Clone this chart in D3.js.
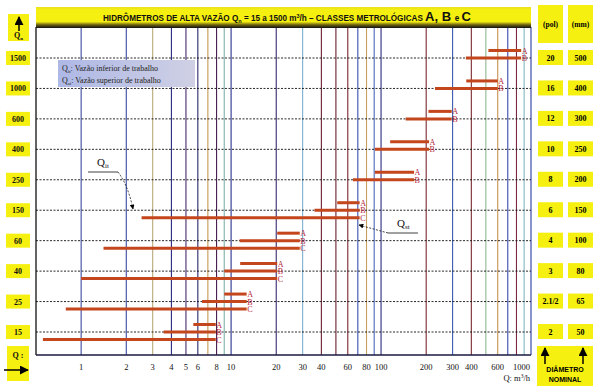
<!DOCTYPE html>
<html><head><meta charset="utf-8">
<script src="https://cdn.jsdelivr.net/npm/d3@7"></script>
<style>body{margin:0;background:#fff}svg{display:block}</style>
</head><body>
<svg id="c" width="598" height="389"></svg>
<script>
// ---- data ----
const rows = ["1500","1000","600","400","250","150","60","40","25","15"];
const pol  = ["20","16","12","10","8","6","4","3","2.1/2","2"];
const mm   = ["500","400","300","250","200","150","100","80","65","50"];
const classA = [[520,860],[370,600],[207,296],[115,209],[91,166],[51,72],[20.3,28.7],[11.5,20.3],[9,12.7],[5.6,7.9]];
const classB = [[368,860],[229,600],[146,296],[91,209],[65,166],[36,72],[11.4,28.7],[9,20.3],[6.4,12.7],[3.55,7.9]];
const classC = [null,null,null,null,null,[2.53,72],[1.41,28.7],[1,20.3],[0.79,12.7],[0.556,7.9]];
const xTicks = [1,2,3,4,5,6,8,10,20,30,40,60,80,100,200,300,400,600,1000];
const gridVals = [1,2,3,4,5,6,7,8,9,10,20,30,40,50,60,70,80,90,100,200,300,400,500,600,700,800,900,1000];
const gridColors = ["#3a4aa0","#3a4aa0","#b8a878","#2a2a80","#4a2a70","#2a2a70","#c89850","#4a2050","#80b0a8","#2a3090",
  "#3a2a70","#7ab0d0","#6a2030","#6a2030","#7a2a30","#3a50b0","#c8a060","#4a6ab8","#2a2a80",
  "#7a2a30","#3a5ab0","#7a2a30","#90b890","#c89050","#3a4ab0","#7a2a40","#80b8c0","#2a3aa0"];

const svg = d3.select("#c");
const L = 36, R = 531, T = 27, B = 355;
const x = d3.scaleLog().domain([0.5,1000]).range([L,R]);
const y = d3.scalePoint().domain(rows).range([58,332]);
const YEL = "#f6f010";
const serif = "'Liberation Serif','DejaVu Serif',serif";
const sans = "'Liberation Sans',Arial,sans-serif";

const defs = svg.append("defs");
const tg = defs.append("linearGradient").attr("id","tg").attr("x1",0).attr("x2",0).attr("y1",0).attr("y2",1);
tg.append("stop").attr("offset","0%").attr("stop-color","#e8e020");
tg.append("stop").attr("offset","15%").attr("stop-color",YEL);
tg.append("stop").attr("offset","70%").attr("stop-color",YEL);
tg.append("stop").attr("offset","85%").attr("stop-color","#6a6010");
tg.append("stop").attr("offset","100%").attr("stop-color","#111");
const lg = defs.append("linearGradient").attr("id","lg").attr("x1",0).attr("x2",1);
lg.append("stop").attr("offset","0%").attr("stop-color","#aeb8e6");
lg.append("stop").attr("offset","100%").attr("stop-color","#cfd0e4");
defs.append("marker").attr("id","ah").attr("viewBox","0 0 10 10").attr("refX",9).attr("refY",5)
  .attr("markerWidth",6).attr("markerHeight",6).attr("orient","auto")
  .append("path").attr("d","M0,0 L10,5 L0,10 z").attr("fill","#000");

// grid verticals
svg.append("g").selectAll("line").data(gridVals).join("line")
  .attr("x1",d=>x(d)).attr("x2",d=>x(d)).attr("y1",T).attr("y2",B)
  .attr("stroke",(d,i)=>gridColors[i]).attr("stroke-width",1.1);

// dashed row lines
svg.append("g").selectAll("line").data(rows).join("line")
  .attr("x1",L).attr("x2",R).attr("y1",d=>y(d)).attr("y2",d=>y(d))
  .attr("stroke","#111").attr("stroke-width",0.9).attr("stroke-dasharray","2,1.5");

// borders
svg.append("line").attr("x1",L).attr("x2",L).attr("y1",T).attr("y2",B).attr("stroke","#111").attr("stroke-width",1.3);
svg.append("line").attr("x1",L).attr("x2",R).attr("y1",B).attr("y2",B).attr("stroke","#1a1a40").attr("stroke-width",1.6);

// title bar
svg.append("rect").attr("x",L).attr("y",7).attr("width",R-L).attr("height",21).attr("fill","url(#tg)");
const tt = svg.append("text").attr("x",103).attr("y",21).attr("font-family",sans).attr("font-weight","bold")
  .attr("font-size",8.15).attr("fill","#111");
tt.append("tspan").text("HIDRÔMETROS DE ALTA VAZÃO Q");
tt.append("tspan").attr("font-size",5.5).attr("dy",1.5).text("n");
tt.append("tspan").attr("dy",-1.5).text(" = 15 a 1500 m");
tt.append("tspan").attr("font-size",5.5).attr("dy",-3).text("3");
tt.append("tspan").attr("dy",3).text("/h – CLASSES METROLÓGICAS ");
tt.append("tspan").attr("font-size",13).text("A, B ");
tt.append("tspan").attr("font-size",8.15).text("e ");
tt.append("tspan").attr("font-size",13).text("C");

// bars
const barData = [];
rows.forEach((r,i)=>{
  const hasC = classC[i] !== null;
  barData.push({row:r, cls:"A", v:classA[i], off:-7.5});
  barData.push({row:r, cls:"B", v:classB[i], off:0});
  if (hasC) barData.push({row:r, cls:"C", v:classC[i], off:7.5});
});
const bg = svg.append("g");
bg.selectAll("line").data(barData).join("line")
  .attr("x1",d=>x(d.v[0])).attr("x2",d=>x(d.v[1]))
  .attr("y1",d=>y(d.row)+d.off).attr("y2",d=>y(d.row)+d.off)
  .attr("stroke","#c4461c").attr("stroke-width",3);
bg.selectAll("text").data(barData).join("text")
  .attr("x",d=>x(d.v[1])+0.5).attr("y",d=>y(d.row)+d.off+3)
  .attr("font-family",serif).attr("font-size",8).attr("fill","#b4243a").text(d=>d.cls);

// x tick labels
svg.append("g").selectAll("text").data(xTicks).join("text")
  .attr("x",d=>d===1000 ? x(d)-1 : x(d)).attr("y",370)
  .attr("text-anchor",d=>d===1000 ? "end" : "middle")
  .attr("font-family",serif).attr("font-size",8.5).attr("fill","#111").text(d=>d);
const ql = svg.append("text").attr("x",530).attr("y",381).attr("text-anchor","end")
  .attr("font-family",serif).attr("font-size",8.5).attr("fill","#111");
ql.append("tspan").text("Q: m");
ql.append("tspan").attr("font-size",5.5).attr("dy",-3).text("3");
ql.append("tspan").attr("dy",3).text("/h");

// left labels
const lgG = svg.append("g");
lgG.selectAll("rect").data(rows).join("rect")
  .attr("x",6).attr("y",d=>y(d)-7).attr("width",24).attr("height",14).attr("fill",YEL);
lgG.selectAll("text").data(rows).join("text")
  .attr("x",18).attr("y",d=>y(d)+3).attr("text-anchor","middle")
  .attr("font-family",serif).attr("font-weight","bold").attr("font-size",8).attr("fill","#111").text(d=>d);

// top-left Qn box
svg.append("rect").attr("x",8).attr("y",14).attr("width",21).attr("height",27).attr("fill",YEL);
svg.append("line").attr("x1",19).attr("x2",19).attr("y1",31).attr("y2",17).attr("stroke","#000").attr("stroke-width",1.5).attr("marker-end","url(#ah)");
const qn = svg.append("text").attr("x",14).attr("y",38).attr("font-family",serif).attr("font-weight","bold").attr("font-size",8).attr("fill","#111");
qn.append("tspan").text("Q");
qn.append("tspan").attr("font-size",5).attr("dy",1.5).text("n");

// bottom-left Q: box
svg.append("rect").attr("x",7).attr("y",346).attr("width",22).attr("height",35).attr("fill",YEL);
svg.append("text").attr("x",18).attr("y",358).attr("text-anchor","middle").attr("font-family",serif)
  .attr("font-weight","bold").attr("font-size",8).attr("fill","#111").text("Q :");
svg.append("line").attr("x1",4).attr("x2",28).attr("y1",370).attr("y2",370).attr("stroke","#000").attr("stroke-width",1.5).attr("marker-end","url(#ah)");

// right columns
const rg = svg.append("g");
rg.append("rect").attr("x",538).attr("y",5).attr("width",25).attr("height",38).attr("fill",YEL);
rg.append("rect").attr("x",568).attr("y",5).attr("width",25).attr("height",38).attr("fill",YEL);
rg.append("text").attr("x",550.5).attr("y",27).attr("text-anchor","middle").attr("font-family",serif).attr("font-weight","bold").attr("font-size",7.5).text("(pol)");
rg.append("text").attr("x",580.5).attr("y",27).attr("text-anchor","middle").attr("font-family",serif).attr("font-weight","bold").attr("font-size",7.5).text("(mm)");
rows.forEach((r,i)=>{
  rg.append("rect").attr("x",538).attr("y",y(r)-8).attr("width",25).attr("height",15).attr("fill",YEL);
  rg.append("rect").attr("x",568).attr("y",y(r)-8).attr("width",25).attr("height",15).attr("fill",YEL);
  rg.append("text").attr("x",550.5).attr("y",y(r)+2.5).attr("text-anchor","middle").attr("font-family",serif).attr("font-weight","bold").attr("font-size",8).text(pol[i]);
  rg.append("text").attr("x",580.5).attr("y",y(r)+2.5).attr("text-anchor","middle").attr("font-family",serif).attr("font-weight","bold").attr("font-size",8).text(mm[i]);
});
rg.append("rect").attr("x",537).attr("y",346).attr("width",56).attr("height",40).attr("fill",YEL);
rg.append("line").attr("x1",545).attr("x2",545).attr("y1",364).attr("y2",348).attr("stroke","#000").attr("stroke-width",1.5).attr("marker-end","url(#ah)");
rg.append("line").attr("x1",583).attr("x2",583).attr("y1",364).attr("y2",348).attr("stroke","#000").attr("stroke-width",1.5).attr("marker-end","url(#ah)");
rg.append("text").attr("x",565).attr("y",372).attr("text-anchor","middle").attr("font-family",sans).attr("font-weight","bold").attr("font-size",7).text("DIÂMETRO");
rg.append("text").attr("x",565).attr("y",382).attr("text-anchor","middle").attr("font-family",sans).attr("font-weight","bold").attr("font-size",7).text("NOMINAL");

// legend box
svg.append("rect").attr("x",58).attr("y",60).attr("width",137).attr("height",27).attr("fill","url(#lg)");
[["it","Vazão inferior de trabalho",71],["st","Vazão superior de trabalho",83]].forEach(([s,t,yy])=>{
  const tx = svg.append("text").attr("x",62).attr("y",yy).attr("font-family",serif).attr("font-size",8).attr("fill","#222");
  tx.append("tspan").text("Q");
  tx.append("tspan").attr("font-size",5).attr("dy",1.5).text(s);
  tx.append("tspan").attr("dy",-1.5).text(": "+t);
});

// annotations
const a1 = svg.append("text").attr("x",97).attr("y",166).attr("font-family",serif).attr("font-size",11).attr("fill","#111");
a1.append("tspan").text("Q");
a1.append("tspan").attr("font-size",7).attr("dy",2).text("it");
svg.append("line").attr("x1",88).attr("x2",118).attr("y1",172).attr("y2",172).attr("stroke","#111").attr("stroke-width",0.8);
svg.append("path").attr("d","M118,172 Q128,185 133,209").attr("fill","none").attr("stroke","#111").attr("stroke-width",0.8)
  .attr("stroke-dasharray","2,1.5").attr("marker-end","url(#ah)");
const a2 = svg.append("text").attr("x",397).attr("y",227).attr("font-family",serif).attr("font-size",11).attr("fill","#111");
a2.append("tspan").text("Q");
a2.append("tspan").attr("font-size",7).attr("dy",2).text("st");
svg.append("line").attr("x1",388).attr("x2",418).attr("y1",233).attr("y2",233).attr("stroke","#111").attr("stroke-width",0.8);
svg.append("path").attr("d","M388,233 L359,225").attr("fill","none").attr("stroke","#111").attr("stroke-width",0.8)
  .attr("stroke-dasharray","2,1.5").attr("marker-end","url(#ah)");
</script>
</body></html>
